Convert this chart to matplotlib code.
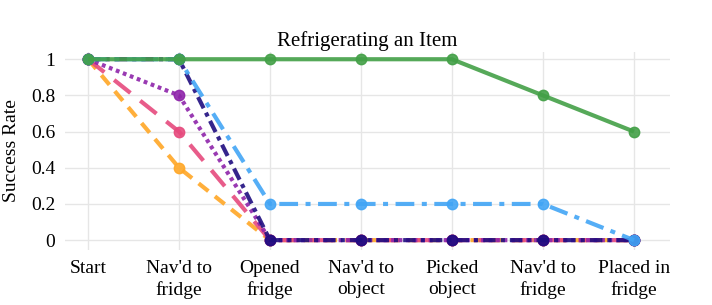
import matplotlib
matplotlib.use('Agg')
import matplotlib.pyplot as plt

plt.rcParams['font.family'] = ['Liberation Serif', 'DejaVu Serif']

# ── data ────────────────────────────────────────────
steps = ["Start", "Nav'd to\nfridge", "Opened\nfridge", "Nav'd to\nobject",
         "Picked\nobject", "Nav'd to\nfridge", "Placed in\nfridge"]
orange = [1, 0.4, 0, 0, 0, 0, 0]
pink   = [1, 0.6, 0, 0, 0, 0, 0]
purple = [1, 0.8, 0, 0, 0, 0, 0]
navy   = [1, 1, 0, 0, 0, 0, 0]
lblue  = [1, 1, 0.2, 0.2, 0.2, 0.2, 0]
green  = [1, 1, 1, 1, 1, 0.8, 0.6]
yticks = [0, 0.2, 0.4, 0.6, 0.8, 1]
ytick_labels = ['0', '0.2', '0.4', '0.6', '0.8', '1']

# ── style per series (drawn bottom to top) ──────────
series = [
    (orange, '#ffa726', (3.0, 2.0)),
    (pink,   '#e64a7d', (5.0, 3.0)),
    (purple, '#8e24aa', (0.9, 0.9)),
    (navy,   '#1f0d80', (3.0, 1.2, 1.0, 1.2)),
    (lblue,  '#42a5f5', (4.5, 1.8, 1.2, 1.8)),
    (green,  '#43a047', None),
]

fig = plt.figure(figsize=(7.12, 3.05), dpi=100)
ax = fig.add_axes([0.0913, 0.180, 0.8497, 0.6495])

x = list(range(len(steps)))
for vals, col, dash in series:
    line, = ax.plot(x, vals, color=col, lw=3, alpha=0.9, marker='o', ms=7.5,
                    solid_capstyle='butt', dash_capstyle='butt')
    if dash is not None:
        line.set_dashes(dash)

ax.set_xlim(-0.253, 6.396)
ax.set_ylim(-0.055, 1.04)
ax.set_xticks(x)
ax.set_xticklabels(steps, fontsize=14, linespacing=1.3)
ax.set_yticks(yticks)
ax.set_yticklabels(ytick_labels, fontsize=14)
ax.tick_params(length=0, pad=7)
ax.grid(True, color='#e6e6e6', lw=1)
ax.set_axisbelow(True)
for s in ax.spines.values():
    s.set_visible(False)
ax.set_ylabel("Success Rate", fontsize=14, labelpad=8)
ax.set_title("Refrigerating an Item", fontsize=15, pad=4)

plt.savefig("out.png", dpi=100)
